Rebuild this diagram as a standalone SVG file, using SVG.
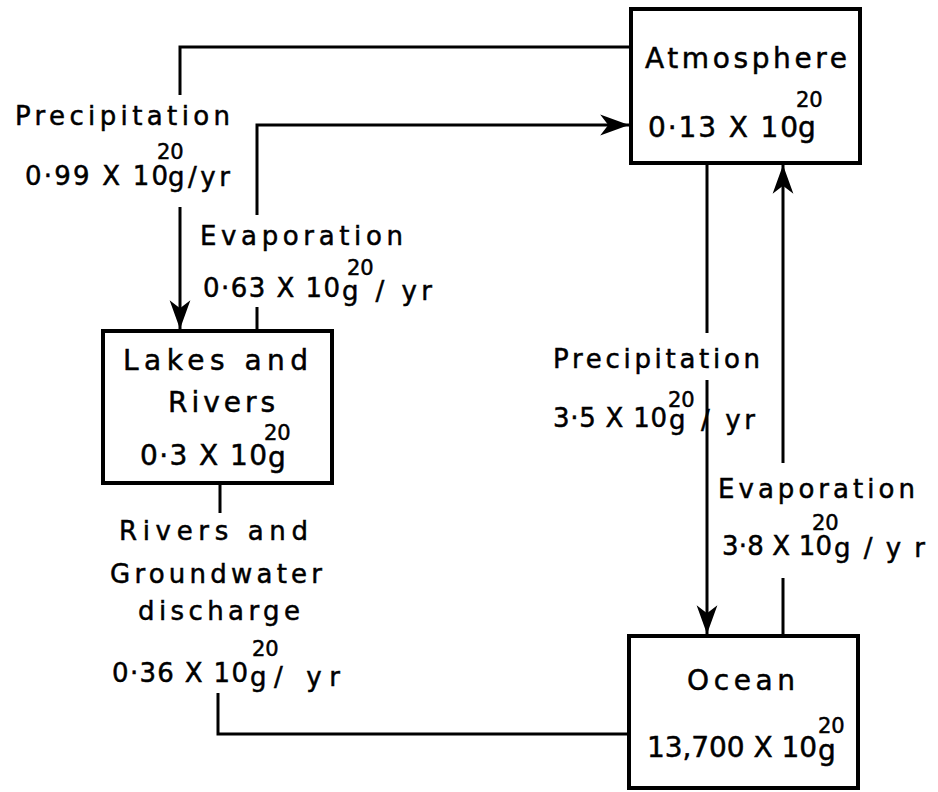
<svg xmlns="http://www.w3.org/2000/svg" width="938" height="792" viewBox="0 0 938 792">
<style>
text{font-family:"DejaVu Sans","Liberation Sans",sans-serif;fill:#000;stroke:#000;stroke-width:0.5}
.l{font-size:26px}
.b{font-size:28px}
.s{font-size:21px}
.box{fill:#fff;stroke:#000;stroke-width:4}
.c{fill:none;stroke:#000;stroke-width:3}
</style>
<defs>
<marker id="ah" markerUnits="userSpaceOnUse" markerWidth="30" markerHeight="24" refX="25" refY="9" orient="auto" viewBox="0 0 26 18">
<path d="M0,0 L25,9 L0,18 L7,9 Z" fill="#000"/>
</marker>
</defs>
<rect width="938" height="792" fill="#fff"/>
<g id="connectors">
<path class="c" d="M631,47 H180 V95 M180,207 V329" marker-end="url(#ah)"/>
<path class="c" d="M257,331 V307 M257,215 V125 H629" marker-end="url(#ah)"/>
<path class="c" d="M707,163 V333 M707,380 V634" marker-end="url(#ah)"/>
<path class="c" d="M783,636 V578 M783,463 V165" marker-end="url(#ah)"/>
<path class="c" d="M220,483 V513 M218,693 V734 H627"/>
</g>
<g id="atmosphere">
<rect class="box" x="631" y="9" width="229" height="154"/>
<text class="b" x="645" y="68" textLength="202" lengthAdjust="spacing">Atmosphere</text>
<text class="b"><tspan x="648" y="137" textLength="150" lengthAdjust="spacing">0·13 X 10</tspan><tspan class="s" x="796" y="107">20</tspan><tspan x="798" y="137">g</tspan></text>
</g>
<g id="lakes">
<rect class="box" x="103" y="331" width="229" height="152"/>
<text class="b" x="123" y="370" textLength="185" lengthAdjust="spacing">Lakes and</text>
<text class="b" x="168" y="412" textLength="107" lengthAdjust="spacing">Rivers</text>
<text class="b"><tspan x="140" y="465" textLength="127" lengthAdjust="spacing">0·3 X 10</tspan><tspan class="s" x="264" y="440">20</tspan><tspan x="268" y="467">g</tspan></text>
</g>
<g id="ocean">
<rect class="box" x="629" y="636" width="229" height="152"/>
<text class="b" x="687" y="690" textLength="108" lengthAdjust="spacing">Ocean</text>
<text class="b"><tspan x="647" y="757" textLength="170" lengthAdjust="spacing">13,700 X 10</tspan><tspan class="s" x="818" y="733">20</tspan><tspan x="818" y="760">g</tspan></text>
</g>
<g id="labels">
<text class="l" x="15" y="125" textLength="215" lengthAdjust="spacing">Precipitation</text>
<text class="l"><tspan x="25" y="185" textLength="143" lengthAdjust="spacing">0·99 X 10</tspan><tspan class="s" x="157" y="159">20</tspan><tspan x="168" y="186" textLength="62" lengthAdjust="spacing">g/yr</tspan></text>
<text class="l" x="200" y="245" textLength="203" lengthAdjust="spacing">Evaporation</text>
<text class="l"><tspan x="203" y="297" textLength="137" lengthAdjust="spacing">0·63 X 10</tspan><tspan class="s" x="347" y="275">20</tspan><tspan x="342" y="300" textLength="90" lengthAdjust="spacing">g / yr</tspan></text>
<text class="l" x="119" y="540" textLength="189" lengthAdjust="spacing">Rivers and</text>
<text class="l" x="110" y="583" textLength="212" lengthAdjust="spacing">Groundwater</text>
<text class="l" x="138" y="620" textLength="162" lengthAdjust="spacing">discharge</text>
<text class="l"><tspan x="112" y="682" textLength="136" lengthAdjust="spacing">0·36 X 10</tspan><tspan class="s" x="252" y="656">20</tspan><tspan x="250" y="686" textLength="90" lengthAdjust="spacing">g/ yr</tspan></text>
<text class="l" x="553" y="368" textLength="207" lengthAdjust="spacing">Precipitation</text>
<text class="l"><tspan x="553" y="427" textLength="114" lengthAdjust="spacing">3·5 X 10</tspan><tspan class="s" x="668" y="407">20</tspan><tspan x="669" y="429" textLength="86" lengthAdjust="spacing">g / yr</tspan></text>
<text class="l" x="718" y="498" textLength="197" lengthAdjust="spacing">Evaporation</text>
<text class="l"><tspan x="722" y="555" textLength="110" lengthAdjust="spacing">3·8 X 10</tspan><tspan class="s" x="812" y="530">20</tspan><tspan x="834" y="557" textLength="91" lengthAdjust="spacing">g/yr</tspan></text>
</g>
</svg>
